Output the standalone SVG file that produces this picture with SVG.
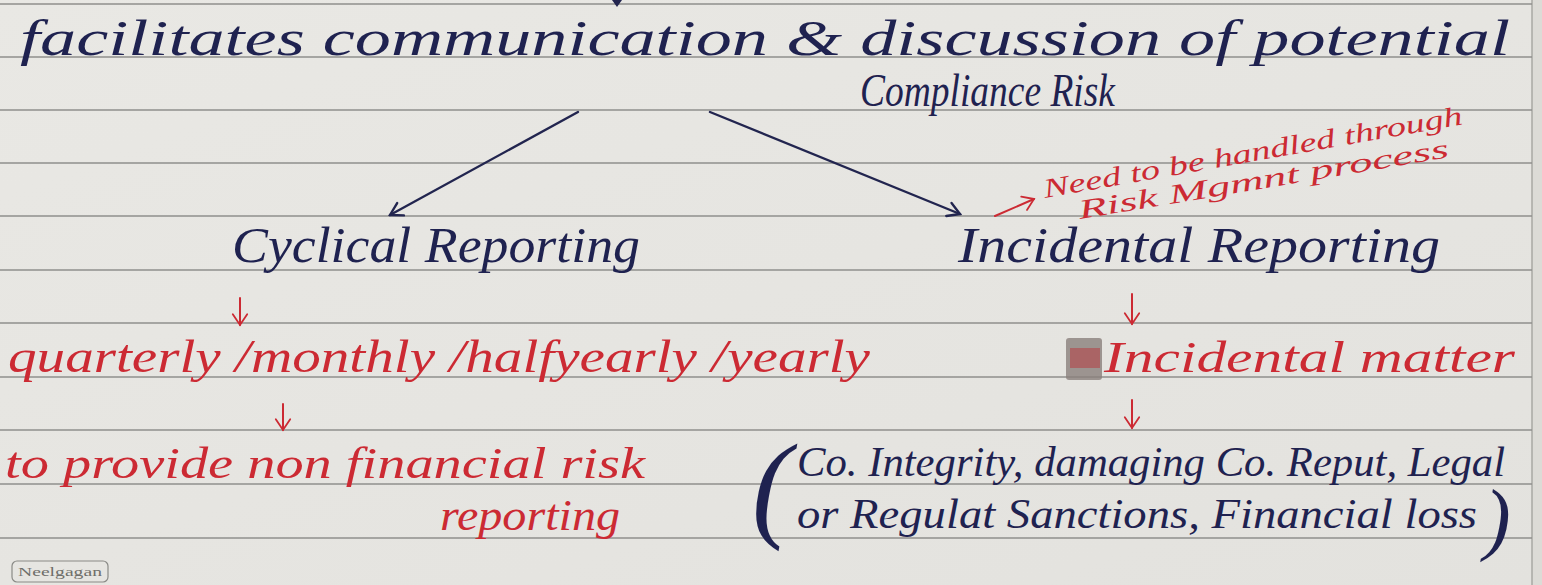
<svg xmlns="http://www.w3.org/2000/svg" width="1542" height="585" viewBox="0 0 1542 585">
  <style>
    .rule { stroke: #8f8f8c; stroke-width: 1.6; }
    .hand { font-family: "Liberation Serif", "DejaVu Serif", serif; font-style: italic; }
    .blue { fill: #1f2250; }
    .red { fill: #cc2a33; }
    .wire-blue { stroke: #22254f; stroke-width: 2.4; fill: none; stroke-linecap: round; }
    .wire-red { stroke: #cc2a33; stroke-width: 2; fill: none; stroke-linecap: round; }
  </style>
  <defs>
    <linearGradient id="paper" x1="0" y1="0" x2="1" y2="1">
      <stop offset="0" stop-color="#e9e8e4"/>
      <stop offset="1" stop-color="#e3e2de"/>
    </linearGradient>
    <marker id="headBlue" viewBox="0 0 20 20" refX="18" refY="10" markerWidth="20" markerHeight="20" markerUnits="userSpaceOnUse" orient="auto">
      <path d="M6 3 L18 10 L6 17" fill="none" stroke="#22254f" stroke-width="2.4" stroke-linecap="round"/>
    </marker>
    <marker id="headRed" viewBox="0 0 20 20" refX="18" refY="10" markerWidth="18" markerHeight="18" markerUnits="userSpaceOnUse" orient="auto">
      <path d="M6 2 L18 10 L6 18" fill="none" stroke="#cc2a33" stroke-width="2" stroke-linecap="round"/>
    </marker>
  </defs>

  <!-- paper and ruling -->
  <rect width="1542" height="585" fill="url(#paper)"/>
  <rect x="1532" y="0" width="10" height="585" fill="#dcdbd6"/>
  <line x1="1532" y1="0" x2="1532" y2="585" stroke="#a9a8a3" stroke-width="1.5"/>
  <g id="rules">
    <line class="rule" x1="0" y1="4" x2="1532" y2="4"/>
    <line class="rule" x1="0" y1="57" x2="1532" y2="57"/>
    <line class="rule" x1="0" y1="110" x2="1532" y2="110"/>
    <line class="rule" x1="0" y1="163" x2="1532" y2="163"/>
    <line class="rule" x1="0" y1="216" x2="1532" y2="216"/>
    <line class="rule" x1="0" y1="270" x2="1532" y2="270"/>
    <line class="rule" x1="0" y1="323" x2="1532" y2="323"/>
    <line class="rule" x1="0" y1="377" x2="1532" y2="377"/>
    <line class="rule" x1="0" y1="430" x2="1532" y2="430"/>
    <line class="rule" x1="0" y1="484" x2="1532" y2="484"/>
    <line class="rule" x1="0" y1="538" x2="1532" y2="538"/>
  </g>

  <!-- ink tip left over from the line above -->
  <path d="M612 0 L617 7 L622 0 Z" fill="#22254f"/>

  <g id="node-compliance">
    <text class="hand blue" x="20" y="55" font-size="50" textLength="1490" lengthAdjust="spacingAndGlyphs">facilitates communication &amp; discussion of potential</text>
    <text class="hand blue" x="860" y="106" font-size="46" textLength="255" lengthAdjust="spacingAndGlyphs">Compliance Risk</text>
  </g>

  <g id="node-note">
    <text class="hand red" font-size="27" transform="translate(1045 198) rotate(-10)" textLength="425" lengthAdjust="spacingAndGlyphs">Need to be handled through</text>
    <text class="hand red" font-size="27" transform="translate(1080 219) rotate(-9.5)" textLength="375" lengthAdjust="spacingAndGlyphs">Risk Mgmnt process</text>
  </g>

  <g id="node-cyclical">
    <text class="hand blue" x="232" y="262" font-size="50" textLength="408" lengthAdjust="spacingAndGlyphs">Cyclical Reporting</text>
  </g>

  <g id="node-incidental">
    <text class="hand blue" x="958" y="262" font-size="50" textLength="482" lengthAdjust="spacingAndGlyphs">Incidental Reporting</text>
  </g>

  <g id="node-frequency">
    <text class="hand red" x="8" y="372" font-size="46" textLength="862" lengthAdjust="spacingAndGlyphs">quarterly /monthly /halfyearly /yearly</text>
  </g>

  <g id="node-matter">
    <!-- crossed-out scribble before the label -->
    <rect x="1066" y="338" width="36" height="42" rx="3" fill="#8a7f7c" opacity="0.8"/>
    <rect x="1070" y="348" width="30" height="20" fill="#b8343a" opacity="0.5"/>
    <text class="hand red" x="1104" y="372" font-size="44" textLength="411" lengthAdjust="spacingAndGlyphs">Incidental matter</text>
  </g>

  <g id="node-purpose">
    <text class="hand red" x="5" y="478" font-size="44" textLength="640" lengthAdjust="spacingAndGlyphs">to provide non financial risk</text>
    <text class="hand red" x="440" y="530" font-size="44" textLength="180" lengthAdjust="spacingAndGlyphs">reporting</text>
  </g>

  <g id="node-examples">
    <text class="hand blue" x="752" y="526" font-size="118">(</text>
    <text class="hand blue" x="797" y="476" font-size="42" textLength="708" lengthAdjust="spacingAndGlyphs">Co. Integrity, damaging Co. Reput, Legal</text>
    <text class="hand blue" x="797" y="528" font-size="42" textLength="680" lengthAdjust="spacingAndGlyphs">or Regulat Sanctions, Financial loss</text>
    <text class="hand blue" x="1484" y="545" font-size="80">)</text>
  </g>

  <g id="connectors">
    <path class="wire-blue" d="M578 112 L390 215" marker-end="url(#headBlue)"/>
    <path class="wire-blue" d="M710 112 L960 214" marker-end="url(#headBlue)"/>
    <path class="wire-red" d="M995 216 L1034 199" marker-end="url(#headRed)"/>
    <path class="wire-red" d="M240 298 L240 325" marker-end="url(#headRed)"/>
    <path class="wire-red" d="M1132 294 L1132 324" marker-end="url(#headRed)"/>
    <path class="wire-red" d="M283 404 L283 430" marker-end="url(#headRed)"/>
    <path class="wire-red" d="M1132 400 L1132 428" marker-end="url(#headRed)"/>
  </g>

  <g id="brand">
    <rect x="12" y="561" width="96" height="21" rx="5" fill="none" stroke="#8a8a86" stroke-width="1.2"/>
    <text x="18" y="576" font-family="Liberation Serif, serif" font-size="13" fill="#6e6e6a" textLength="84" lengthAdjust="spacingAndGlyphs">Neelgagan</text>
  </g>
</svg>
